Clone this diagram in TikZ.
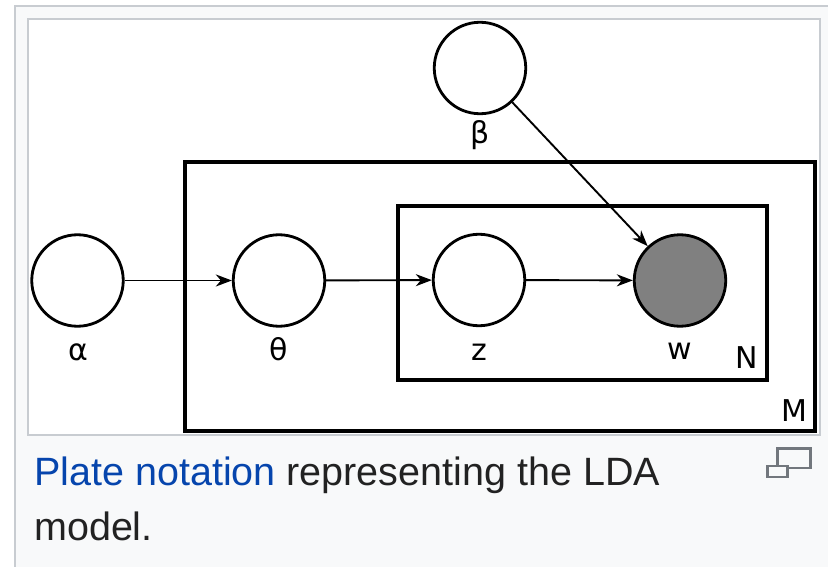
\documentclass[tikz,border=0pt]{standalone}
\usepackage{fontspec}
\setmainfont{Liberation Sans}
\newfontfamily\lblfont{DejaVu Sans}
\usetikzlibrary{arrows.meta}
\definecolor{framebg}{HTML}{F8F9FA}
\definecolor{frameline}{HTML}{C8CCD1}
\definecolor{linkblue}{HTML}{0645AD}
\definecolor{captext}{HTML}{222222}
\definecolor{obsgray}{HTML}{808080}
\definecolor{icongray}{HTML}{72777D}
\tikzset{
  var/.style={circle, draw=black, line width=2.8pt, minimum size=91.5pt, inner sep=0pt, fill=white},
  obs/.style={var, fill=obsgray},
  plate/.style={draw=black, line width=4pt, inner sep=0pt},
  lbl/.style={anchor=base, inner sep=0pt, font=\lblfont\fontsize{30}{36}\selectfont},
  conn/.style={line width=1.9pt, -{Stealth[length=16pt, width=12pt, inset=5pt]}},
  caption/.style={anchor=base west, inner sep=0pt, text=captext, font=\fontsize{39.5}{48}\selectfont},
  iconbox/.style={draw=icongray, line width=2.5pt, fill=framebg}
}
\begin{document}
\begin{tikzpicture}[x=1pt,y=-1pt]
\useasboundingbox (0,0) rectangle (828,567);
\fill[white] (0,0) rectangle (828,567);
% thumbnail frame
\filldraw[fill=framebg, draw=frameline, line width=1.5pt] (15,6) rectangle (840,580);
\filldraw[fill=white, draw=frameline, line width=1.5pt] (28,19) rectangle (820,435);
% plates
\node[plate, minimum width=630.5pt, minimum height=269pt] (Mplate) at (499.75,296.5) {};
\node[plate, minimum width=369.5pt, minimum height=173.5pt] (Nplate) at (582.25,292.75) {};
% variables
\node[var] (alpha) at (77.5,280.5) {};
\node[var] (theta) at (279,280.5) {};
\node[var] (z) at (479,280) {};
\node[obs] (w) at (680,280.5) {};
\node[var] (beta) at (480,68) {};
% labels
\node[lbl] (la) at (78,360) {α};
\node[lbl] (lt) at (279,360) {θ};
\node[lbl] (lz) at (479,360) {z};
\node[lbl] (lw) at (680,359) {w};
\node[lbl] (lb) at (480,144) {β};
\node[lbl] (lN) at (746.5,368) {N};
\node[lbl] (lM) at (794,421) {M};
% connectors
\draw[conn] (alpha) -- (theta);
\draw[conn] (theta) -- (z);
\draw[conn] (z) -- (w);
\draw[conn] (beta) -- (w);
% caption
\node[caption] (cap1) at (34,485) {\textcolor{linkblue}{Plate notation} representing the LDA};
\node[caption] (cap2) at (34,540) {model.};
% enlarge icon
\draw[iconbox] (777.5,448.5) rectangle (810.5,468);
\draw[iconbox] (767.5,466) rectangle (787.5,477);
\end{tikzpicture}
\end{document}
